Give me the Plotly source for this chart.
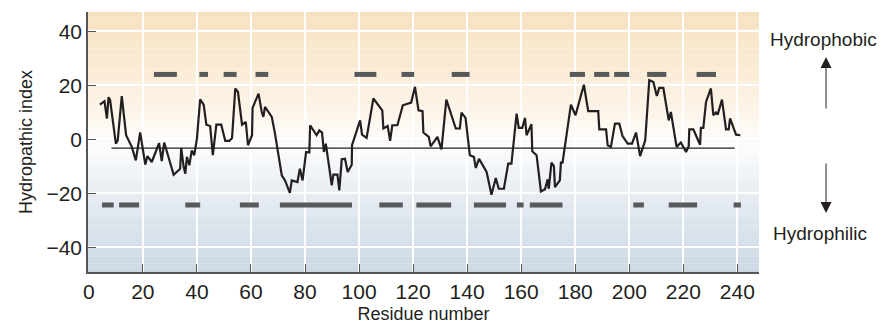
import plotly.graph_objects as go

# Hydropathy profile (residue number, hydropathic index)
residue = [4.1, 5.8, 6.7, 7.3, 7.9, 10.0, 10.7, 12.2, 13.8, 15.9, 17.4, 19.0, 20.9, 21.7, 23.3,
           26.0, 27.0, 27.9, 31.4, 33.8, 34.2, 35.1, 35.7, 36.3, 37.2, 38.1, 39.0, 40.0, 41.2,
           42.5, 43.5, 44.9, 45.9, 47.2, 49.0, 50.5, 52.0, 53.0, 54.2, 55.2, 56.7, 58.1, 58.9,
           60.4, 60.6, 62.8, 64.0, 64.6, 65.2, 67.7, 68.9, 71.4, 72.6, 74.4, 75.1, 77.2, 78.1,
           79.1, 80.4, 81.6, 81.9, 84.3, 85.3, 86.3, 87.0, 87.7, 89.9, 90.5, 92.0, 92.7, 93.6,
           94.8, 95.8, 97.3, 97.4, 100.4, 101.1, 102.8, 105.3, 108.6, 109.0, 110.6, 111.5,
           112.3, 114.2, 116.2, 119.3, 120.7, 122.0, 123.5, 123.8, 125.8, 126.5, 129.0,
           130.5, 132.3, 135.8, 137.3, 137.9, 139.4, 141.0, 142.5, 143.2, 144.4, 147.2, 149.0,
           150.6, 151.7, 153.6, 155.2, 156.4, 158.3, 159.1, 160.4, 161.4, 162.0, 163.8, 164.1,
           165.7, 167.3, 168.8, 169.8, 170.2, 171.2, 172.1, 172.5, 174.3, 174.7, 175.3, 178.4,
           180.1, 183.2, 184.8, 188.5, 188.9, 191.4, 192.0, 193.2, 194.7, 196.3, 197.5, 199.4,
           201.0, 202.5, 204.0, 205.9, 207.4, 208.9, 210.2, 211.1, 212.6, 214.6, 215.4, 217.5,
           219.1, 221.0, 222.0, 222.2, 223.7, 226.2, 226.5, 227.4, 228.4, 230.2, 231.1, 232.1,
           232.7, 234.3, 235.8, 236.8, 237.3, 239.5, 241.1]
hydropathy = [12.8, 14.1, 7.7, 15.6, 14.4, -1.6, -0.4, 16.0, 1.5, -2.8, -7.8, 2.5, -9.4, -6.2, -8.4,
              -1.4, -8.1, -1.2, -13.1, -10.9, -3.2, -10.2, -12.7, -6.5, -9.6, -4.1, -5.9, 0.2,
              14.8, 12.8, 5.4, 4.9, -5.9, 5.4, 5.4, -0.6, -0.6, 0.5, 18.8, 17.5, 5.4, 6.4, -2.2,
              1.5, 11.6, 16.9, 10.1, 8.3, 12.0, 8.3, 2.1, -13.3, -15.2, -19.8, -15.2, -15.8,
              -10.9, -15.2, -4.7, -4.9, 5.2, 1.5, 3.3, 2.5, -4.7, -1.6, -17.0, -13.1, -13.1,
              -18.9, -7.4, -7.2, -12.1, -9.4, -2.2, 7.0, 1.7, 0.5, 15.1, 10.7, 4.0, 4.9, -0.6,
              5.2, 5.2, 12.6, 13.6, 19.4, 10.7, 10.4, 2.5, 0.9, -2.6, 0.9, -3.7, 14.7, 4.0, 4.0,
              9.9, 7.9, -5.9, -6.5, -10.6, -7.2, -12.1, -20.5, -14.3, -18.3, -18.3, -9.0, -9.0,
              9.5, 4.2, 4.2, 7.9, 1.5, 5.6, -4.4, -5.9, -19.3, -18.5, -14.8, -18.3, -8.6, -9.9,
              -17.7, -15.2, -8.6, -8.6, 12.8, 8.9, 20.2, 10.4, 10.4, 3.7, 3.7, -2.2, -2.8, 5.8,
              5.8, 1.2, -1.6, -1.6, 2.5, -6.2, -0.4, 21.9, 21.2, 16.0, 19.0, 19.0, 7.0, 10.1,
              -2.8, -1.2, -4.7, -2.6, 3.7, 3.7, -2.0, 4.2, 4.2, 13.8, 18.8, 8.9, 9.9, 9.1, 14.7,
              3.7, 3.7, 7.7, 1.7, 1.5]

# Reference (mean) line
mean_start, mean_end, mean_value = 8.4, 239.0, -3.3

# Predicted segments (hydrophobic, upper) and (hydrophilic, lower)
upper_level = 24.0
upper_starts = [24.1, 40.9, 49.9, 61.7, 98.3, 115.7, 134.3, 178.0, 187.0, 194.4, 206.6, 224.9]
upper_ends = [32.6, 44.1, 54.7, 66.4, 106.4, 120.4, 140.9, 183.6, 192.6, 200.0, 213.7, 232.1]
lower_level = -24.3
lower_starts = [4.9, 11.2, 35.7, 55.9, 70.7, 107.5, 121.2, 142.5, 158.4, 163.2, 201.5, 214.6, 238.6]
lower_ends = [9.2, 18.6, 41.2, 62.9, 97.4, 116.2, 134.1, 154.4, 160.9, 175.3, 205.4, 225.1, 241.3]

x_ticks = list(range(0, 241, 20))
y_ticks = [-40, -20, 0, 20, 40]
X_RANGE = [-0.3, 248.0]
Y_RANGE = [-49.1, 47.1]

FONT = "Liberation Sans, Arial, sans-serif"
TXT = "#231f20"


def seg_xy(starts, ends, level):
    xs, ys = [], []
    for s, e in zip(starts, ends):
        xs += [s, e, None]
        ys += [level, level, None]
    return xs, ys


fig = go.Figure()

ux, uy = seg_xy(upper_starts, upper_ends, upper_level)
lx, ly = seg_xy(lower_starts, lower_ends, lower_level)
for xs, ys in [(ux, uy), (lx, ly)]:
    fig.add_trace(go.Scatter(x=xs, y=ys, mode="lines",
                             line=dict(color="#58595b", width=5),
                             hoverinfo="skip", showlegend=False))

fig.add_trace(go.Scatter(x=[mean_start, mean_end], y=[mean_value, mean_value], mode="lines",
                         line=dict(color="#231f20", width=1.2), showlegend=False))
fig.add_trace(go.Scatter(x=residue, y=hydropathy, mode="lines",
                         line=dict(color="#231f20", width=2.2), showlegend=False))

# background gradient (style only)
stops = [(47.1, (246, 225, 190)), (20, (251, 238, 219)), (2, (254, 250, 245)),
         (-4, (250, 251, 252)), (-20, (230, 236, 242)), (-49.1, (201, 214, 226))]


def color_at(v):
    for (v0, c0), (v1, c1) in zip(stops[:-1], stops[1:]):
        if v1 <= v <= v0:
            t = (v0 - v) / (v0 - v1)
            c = [round(a + (b - a) * t) for a, b in zip(c0, c1)]
            return "rgb(%d,%d,%d)" % tuple(c)
    return "rgb(255,255,255)"


shapes = []
n = 120
for i in range(n):
    y0 = Y_RANGE[0] + (Y_RANGE[1] - Y_RANGE[0]) * i / n
    y1 = Y_RANGE[0] + (Y_RANGE[1] - Y_RANGE[0]) * (i + 1) / n
    shapes.append(dict(type="rect", xref="paper", x0=0, x1=1, yref="y", y0=y0, y1=y1 + 0.05,
                       fillcolor=color_at((y0 + y1) / 2), line=dict(width=0), layer="below"))

annotations = [
    dict(text="Hydrophobic", xref="paper", yref="paper", x=1.0954, y=0.896, showarrow=False,
         xanchor="center", yanchor="middle", font=dict(family=FONT, size=19, color=TXT)),
    dict(text="Hydrophilic", xref="paper", yref="paper", x=1.0915, y=0.148, showarrow=False,
         xanchor="center", yanchor="middle", font=dict(family=FONT, size=19, color=TXT)),
    dict(text="", xref="paper", yref="paper", x=1.0999, y=(272 - 57) / 260, ax=0, ay=53,
         showarrow=True, arrowhead=2, arrowsize=2.2, arrowwidth=1, arrowcolor=TXT),
    dict(text="", xref="paper", yref="paper", x=1.0999, y=(272 - 213) / 260, ax=0, ay=-51,
         showarrow=True, arrowhead=2, arrowsize=2.2, arrowwidth=1, arrowcolor=TXT),
]

# the page body adds an 8 px offset, so the figure is 8 px smaller with matching margins
fig.update_layout(
    width=883, height=321,
    margin=dict(l=80, r=132, t=4, b=57),
    paper_bgcolor="white", plot_bgcolor="white",
    shapes=shapes, annotations=annotations,
    font=dict(family=FONT, color=TXT, size=17),
    xaxis=dict(range=X_RANGE, tickvals=x_ticks, ticks="inside", ticklen=8, tickwidth=1.2,
               tickcolor="#555", showline=True, linecolor="#555", linewidth=1.5,
               showgrid=True, gridcolor="white", gridwidth=1.5, zeroline=False,
               tickfont=dict(size=21), title=dict(text="Residue number", font=dict(size=18), standoff=5)),
    yaxis=dict(range=Y_RANGE, tickvals=y_ticks, ticktext=[str(v).replace("-", "\u2212") for v in y_ticks],
               ticks="inside", ticklen=8, tickwidth=1.2,
               tickcolor="#555", showline=True, linecolor="#555", linewidth=1.5,
               showgrid=True, gridcolor="white", gridwidth=1.5, zeroline=False,
               tickfont=dict(size=21), title=dict(text="Hydropathic index", font=dict(size=18), standoff=9)),
)

fig.write_html("out.html")
